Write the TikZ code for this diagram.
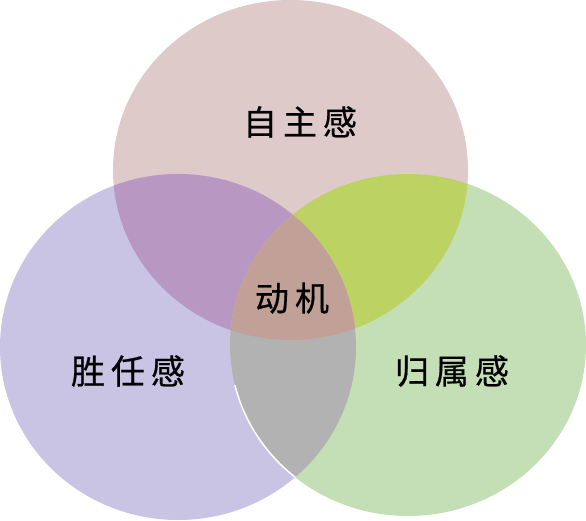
\documentclass[tikz,border=0pt]{standalone}
\usepackage{fontspec}
\newfontfamily\cjk[FakeBold=0.6]{Noto Sans CJK SC}
\definecolor{cpink}{HTML}{DFCACA}
\definecolor{clav}{HTML}{CAC4E4}
\definecolor{cgreen}{HTML}{C4DFB5}
\definecolor{cpurple}{HTML}{B897C2}
\definecolor{cyellow}{HTML}{BCD363}
\definecolor{cgray}{HTML}{B2B2B2}
\definecolor{ctan}{HTML}{C1A197}
\begin{document}
\begin{tikzpicture}[x=1pt,y=-1pt,
  lbl/.style={font=\cjk\fontsize{34}{38}\selectfont, text=black, inner sep=0pt}]
\useasboundingbox (0,0) rectangle (586,521);
\def\Top{(290.5,170) ellipse [x radius=177.5, y radius=170]}
\def\Lft{(178,347) ellipse [x radius=178, y radius=173]}
\def\Rgt{(408,345) ellipse [x radius=178, y radius=171]}
\fill[cpink] \Top;
\fill[clav] \Lft;
\fill[cgreen] \Rgt;
\begin{scope}
  \clip \Top; \fill[cpurple] \Lft;
\end{scope}
\begin{scope}
  \clip \Top; \fill[cyellow] \Rgt;
\end{scope}
\begin{scope}
  \clip \Lft; \fill[cgray] \Rgt;
\end{scope}
\begin{scope}
  \clip \Top; \clip \Lft; \fill[ctan] \Rgt;
\end{scope}
\begin{scope}
  \clip (200,385) rectangle (300,480);
  \clip \Lft;
  \draw[white, line width=1.5pt] \Rgt;
\end{scope}
\node[lbl] (auto) at (300,122) {自\hspace{6pt}主\hspace{6pt}感};
\node[lbl] (motive) at (292,298) {动\hspace{6pt}机};
\node[lbl] (comp) at (128,371) {胜\hspace{6pt}任\hspace{6pt}感};
\node[lbl] (belong) at (452,371) {归\hspace{6pt}属\hspace{6pt}感};
\end{tikzpicture}
\end{document}
